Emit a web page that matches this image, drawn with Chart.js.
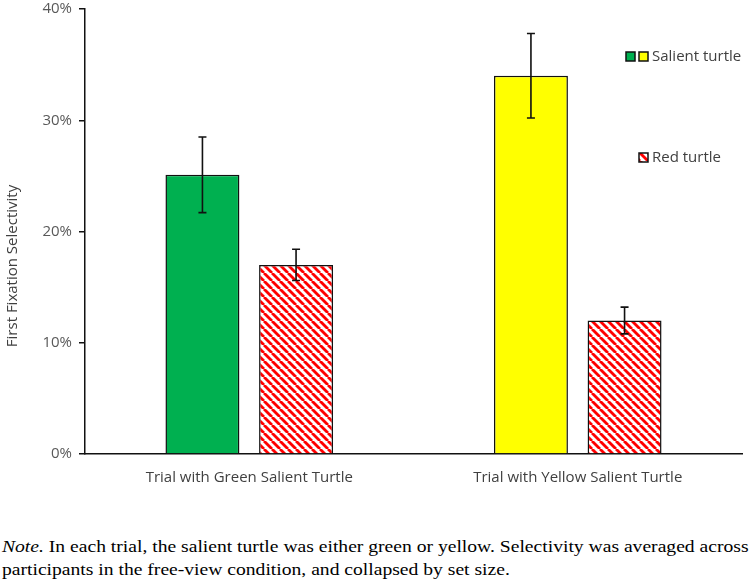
<!DOCTYPE html>
<html>
<head>
<meta charset="utf-8">
<script src="https://cdn.jsdelivr.net/npm/chart.js@4"></script>
<style>
  body { margin: 0; background: #fff; width: 750px; height: 581px; position: relative; overflow: hidden; }
  #wrap { position: absolute; left: 0; top: -7px; width: 750px; height: 507px; }
  #note { position: absolute; left: 2px; top: 535px; font-family: "Liberation Serif", serif; font-size: 16px; line-height: 23px; color: #000; white-space: nowrap; transform: scaleX(1.225); transform-origin: 0 0; }
</style>
</head>
<body>
<div id="wrap"><canvas id="ch"></canvas></div>
<div id="note"><i>Note.</i> In each trial, the salient turtle was either green or yellow. Selectivity was averaged across<br>participants in the free-view condition, and collapsed by set size.</div>
<script>
const categories = ['Trial with Green Salient Turtle', 'Trial with Yellow Salient Turtle'];
const salientValues = [25.1, 34.0];
const salientErrors = [3.4, 3.8];
const redValues = [17.0, 12.0];
const redErrors = [1.4, 1.2];
const yTicks = [0, 10, 20, 30, 40];

function makeHatch() {
  let c = document.createElement('canvas');
  c.width = 8; c.height = 8;
  let g = c.getContext('2d');
  g.fillStyle = '#fff';
  g.fillRect(0, 0, 8, 8);
  g.strokeStyle = '#ff0000';
  g.lineWidth = 2.8;
  for (let x0 = -8; x0 <= 8; x0 += 8) {
    g.beginPath();
    g.moveTo(x0, 0);
    g.lineTo(x0 + 8, 8);
    g.stroke();
  }
  return document.getElementById('ch').getContext('2d').createPattern(c, 'repeat');
}
const hatch = makeHatch();

const errorBars = {
  id: 'errorBars',
  afterDatasetsDraw(chart) {
    const ctx = chart.ctx;
    const y = chart.scales.y;
    const errs = [salientErrors, redErrors];
    ctx.save();
    ctx.strokeStyle = '#111';
    ctx.lineWidth = 1.6;
    chart.data.datasets.forEach((ds, di) => {
      chart.getDatasetMeta(di).data.forEach((bar, i) => {
        const v = ds.data[i];
        const top = y.getPixelForValue(v + errs[di][i]);
        const bot = y.getPixelForValue(v - errs[di][i]);
        ctx.beginPath();
        ctx.moveTo(bar.x, top); ctx.lineTo(bar.x, bot);
        ctx.moveTo(bar.x - 4, top); ctx.lineTo(bar.x + 4, top);
        ctx.moveTo(bar.x - 4, bot); ctx.lineTo(bar.x + 4, bot);
        ctx.stroke();
      });
    });
    ctx.restore();
  }
};

// legend boxes and the y title, drawn by hand to sit where the original has them
const extras = {
  id: 'extras',
  afterDraw(chart) {
    const ctx = chart.ctx;
    ctx.save();
    ctx.lineWidth = 1.5;
    ctx.strokeStyle = '#111';
    const box = (x, y, fill) => {
      ctx.fillStyle = fill;
      ctx.fillRect(x, y, 9, 9);
      ctx.strokeRect(x, y, 9, 9);
    };
    box(626, 59, '#00b050');
    box(639, 59, '#ffff00');
    box(639, 160, hatch);
    ctx.fillStyle = '#404040';
    ctx.font = '15px "Open Sans"';
    ctx.textBaseline = 'middle';
    ctx.fillText('Salient turtle', 652, 63.5);
    ctx.fillText('Red turtle', 652, 164.5);

    ctx.translate(12.5, 273);
    ctx.rotate(-Math.PI / 2);
    ctx.textAlign = 'center';
    ctx.font = '15px "Open Sans"';
    ctx.fillText('First Fixation Selectivity', 0, 0);
    ctx.restore();
  }
};

new Chart(document.getElementById('ch'), {
  type: 'bar',
  data: {
    labels: categories,
    datasets: [
      {
        label: 'Salient turtle',
        data: salientValues,
        backgroundColor: ['#00b050', '#ffff00'],
        borderColor: '#111',
        borderWidth: 1.5
      },
      {
        label: 'Red turtle',
        data: redValues,
        backgroundColor: hatch,
        borderColor: '#111',
        borderWidth: 1.5
      }
    ]
  },
  options: {
    responsive: true,
    maintainAspectRatio: false,
    animation: false,
    categoryPercentage: 0.57,
    barPercentage: 0.79,
    layout: { padding: { left: 0, right: 8, top: 0, bottom: 0 } },
    plugins: {
      legend: { display: false },
      tooltip: { enabled: false }
    },
    scales: {
      x: {
        grid: { display: true, drawOnChartArea: false, drawTicks: false },
        border: { color: '#111', width: 1.5 },
        ticks: { color: '#404040', font: { family: 'Open Sans', size: 15 }, padding: 15 },
        afterFit(s) { s.height = 46; }
      },
      y: {
        min: 0,
        max: 40,
        afterBuildTicks(s) { s.ticks = yTicks.map(v => ({ value: v })); },
        grid: { display: true, drawOnChartArea: false, drawTicks: true, tickLength: 6, color: '#111', lineWidth: 1.5 },
        border: { color: '#111', width: 1.5 },
        ticks: {
          color: '#595959',
          font: { family: 'Open Sans', size: 15 },
          padding: 7,
          callback: v => v + '%'
        },
        afterFit(s) { s.width = 85; }
      }
    }
  },
  plugins: [errorBars, extras]
});
</script>
</body>
</html>
